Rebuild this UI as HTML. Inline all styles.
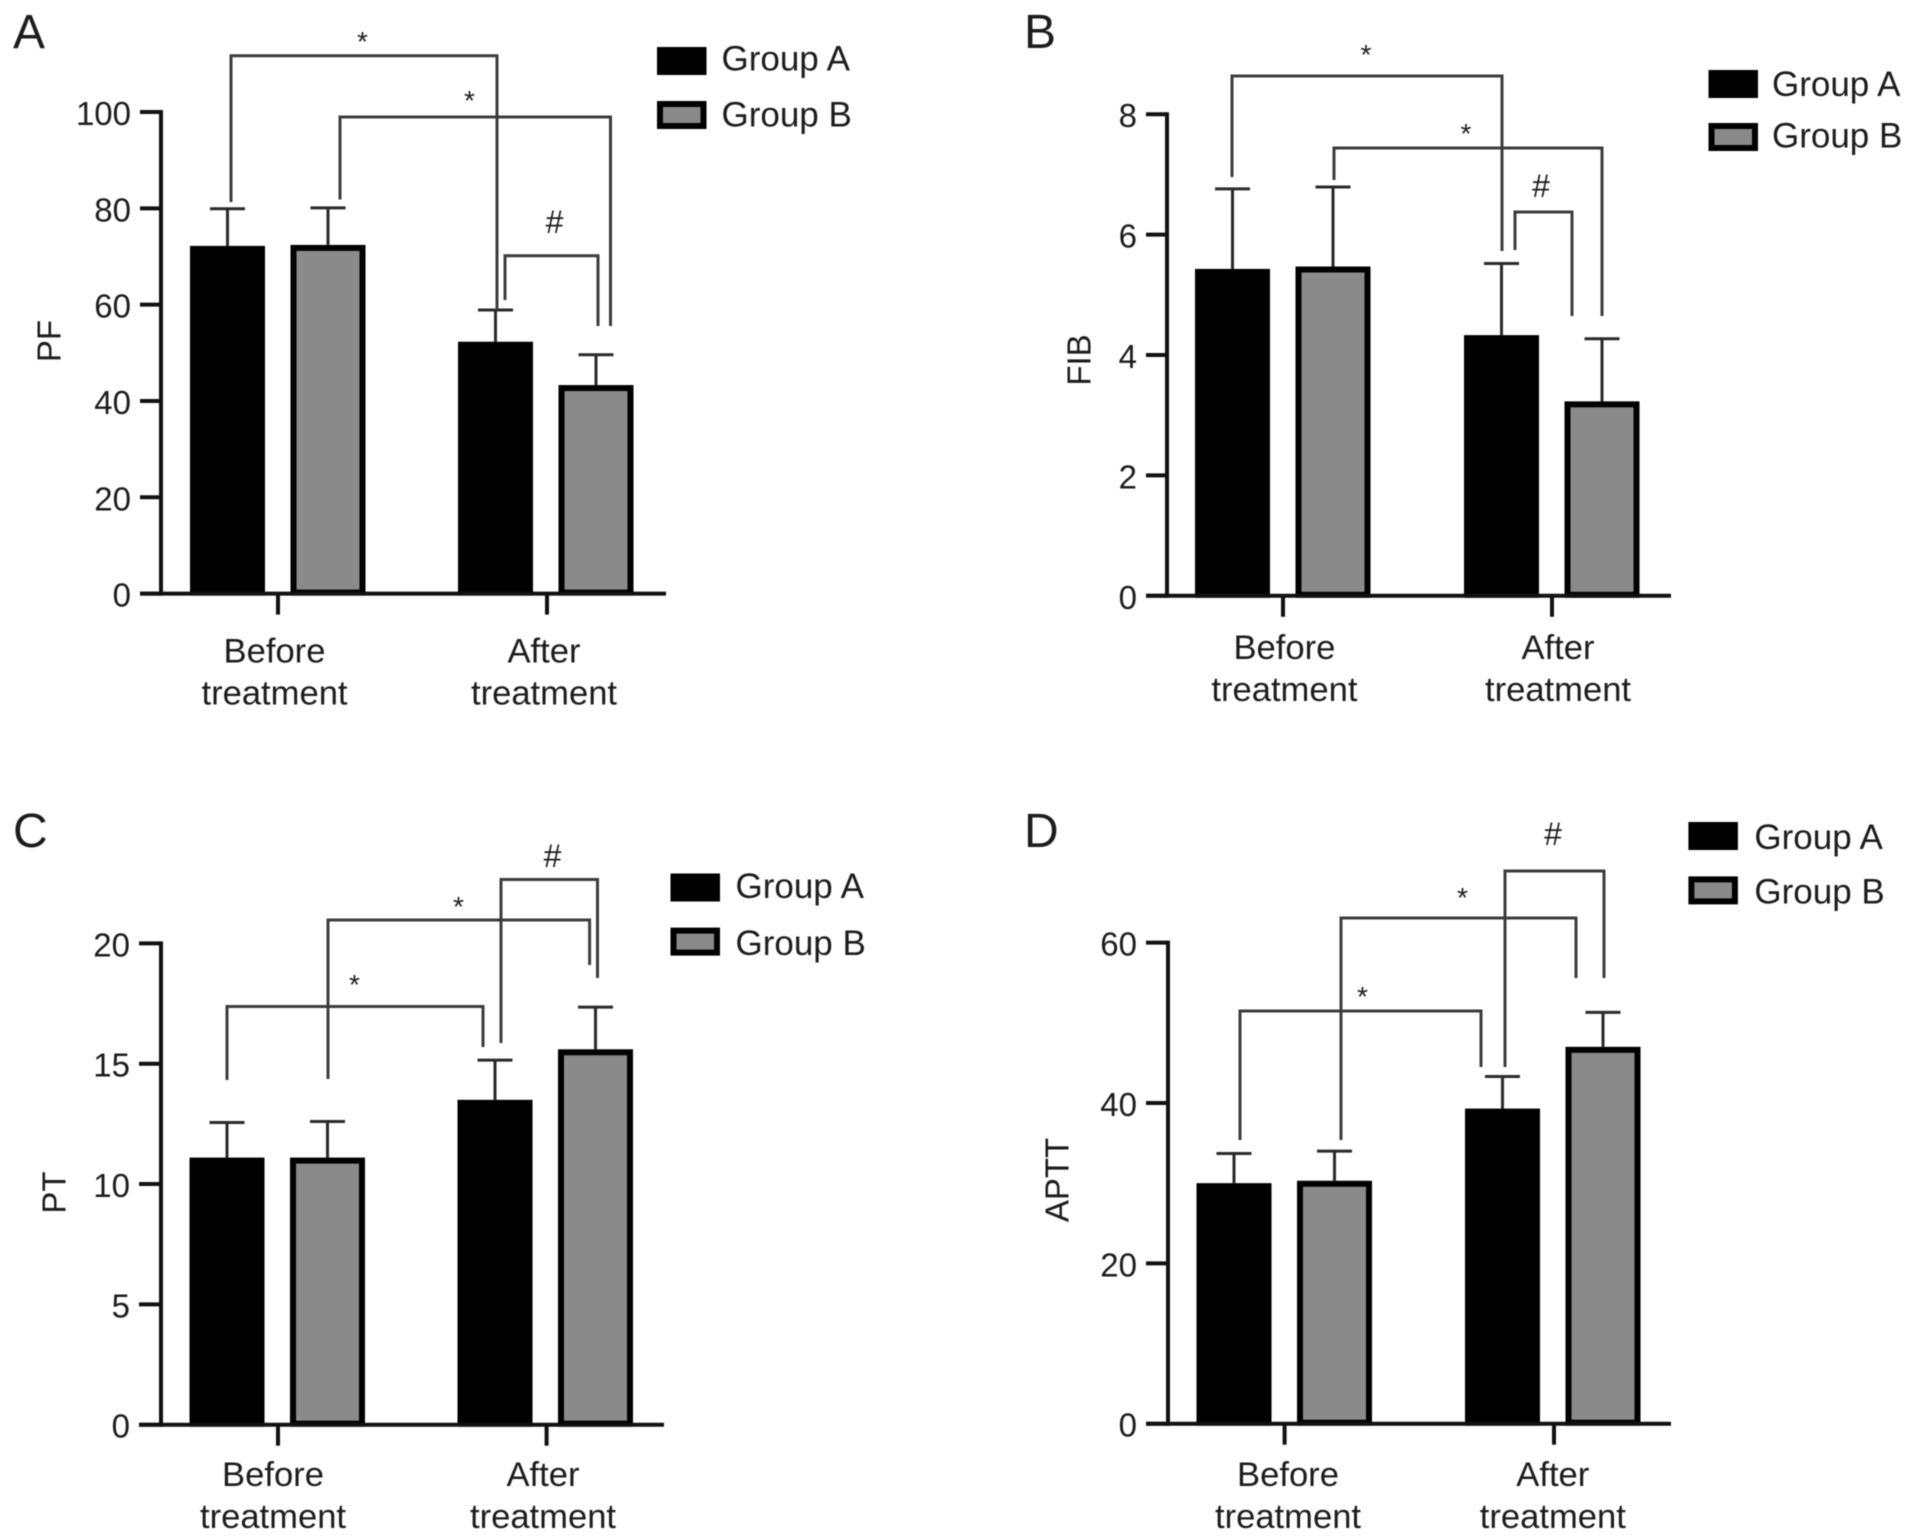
<!DOCTYPE html>
<html lang="en">
<head>
<meta charset="utf-8">
<title>Coagulation indices by group</title>
<style>
html,body{margin:0;padding:0;background:#fff;}
svg{display:block;filter:blur(0.6px);}
text{font-family:"Liberation Sans",sans-serif;fill:#1c1c1c;}
</style>
</head>
<body>
<svg id="figure" xmlns="http://www.w3.org/2000/svg" width="1913" height="1540" viewBox="0 0 1913 1540"></svg>
<script>
const categories = [["Before", "treatment"], ["After", "treatment"]];
const groupNames = ["Group A", "Group B"];

const pfGroupA = [72.2, 52.3];
const pfGroupB = [72.4, 43.3];
const pfTopA = [79.9, 58.9];
const pfTopB = [80.1, 49.6];
const pfTicks = [0, 20, 40, 60, 80, 100];

const fibGroupA = [5.43, 4.33];
const fibGroupB = [5.47, 3.23];
const fibTopA = [6.76, 5.52];
const fibTopB = [6.79, 4.27];
const fibTicks = [0, 2, 4, 6, 8];

const ptGroupA = [11.1, 13.5];
const ptGroupB = [11.1, 15.6];
const ptTopA = [12.56, 15.15];
const ptTopB = [12.6, 17.35];
const ptTicks = [0, 5, 10, 15, 20];

const apttGroupA = [30.0, 39.3];
const apttGroupB = [30.3, 47.0];
const apttTopA = [33.7, 43.3];
const apttTopB = [34.0, 51.3];
const apttTicks = [0, 20, 40, 60];

const NS = "http://www.w3.org/2000/svg";
const svg = document.getElementById("figure");

function make(tag, attrs, parent, content) {
  const el = document.createElementNS(NS, tag);
  for (const k in attrs) el.setAttribute(k, attrs[k]);
  if (content !== undefined) el.textContent = content;
  parent.appendChild(el);
  return el;
}

function drawPanel(p) {
  const g = make("g", {}, svg);
  
  

  const maxTick = p.ticks[p.ticks.length - 1];
  const yScale = v => p.yBase - (v / maxTick) * (p.yBase - p.yTop);
  const xBand = (cat, grp) => p.x0 + cat * p.catStep + grp * p.groupStep;

  const letter = make("text", {x: p.letterX, y: p.letterY, "font-size": 48}, g, p.letter);
  
  

  const yTitle = make("text", {
    transform: "translate(" + p.titleX + "," + p.titleY + ") rotate(-90)",
    "text-anchor": "middle", "dominant-baseline": "central", "font-size": 33
  }, g, p.title);
  
  

  // bars and error bars
  p.series.forEach((s, grp) => {
    s.values.forEach((v, cat) => {
      const left = xBand(cat, grp);
      const cx = left + p.barW / 2;
      const errLine = make("line", {x1: cx, x2: cx, y1: yScale(v), y2: yScale(s.tops[cat]), stroke: "#2a2a2a", "stroke-width": 3}, g);
      
      
      const cap = make("line", {x1: cx - 17.5, x2: cx + 17.5, y1: yScale(s.tops[cat]), y2: yScale(s.tops[cat]), stroke: "#2a2a2a", "stroke-width": 3}, g);
      
      
      const bar = make("rect", {
        x: left + 3, y: yScale(v) + 3, width: p.barW - 6,
        height: Math.max(0, p.yBase - yScale(v) - 4),
        fill: grp === 0 ? "#000" : "#8a8a8a", stroke: "#000", "stroke-width": 6
      }, g);
      
      
    });
  });

  // axes
  const yAxis = make("line", {x1: p.axisX, x2: p.axisX, y1: p.yTop - 2, y2: p.yBase + 2, stroke: "#111", "stroke-width": 4}, g);
  
  
  const xAxis = make("line", {x1: p.tickLeft, x2: p.xEnd, y1: p.yBase, y2: p.yBase, stroke: "#111", "stroke-width": 4}, g);
  
  

  p.ticks.forEach(t => {
    const y = yScale(t);
    const tick = make("line", {x1: p.tickLeft, x2: p.axisX, y1: y, y2: y, stroke: "#111", "stroke-width": 4}, g);
    
    
    const label = make("text", {x: p.tickLeft - 9, y: y + 13, "text-anchor": "end", "font-size": 33}, g, String(t));
    
    
  });

  categories.forEach((lines, cat) => {
    const tx = p.xTicks[cat];
    const tick = make("line", {x1: tx, x2: tx, y1: p.yBase, y2: p.yBase + 21, stroke: "#111", "stroke-width": 4}, g);
    
    
    lines.forEach((line, i) => {
      const label = make("text", {x: p.catLabelX[cat], y: p.catBaseY + i * 42, "text-anchor": "middle", "font-size": 34.6}, g, line);
      
      
    });
  });

  // legend
  groupNames.forEach((name, i) => {
    const y = p.legendY[i];
    const sw = make("rect", {
      x: p.legendX + 3, y: y + 3, width: 43.5, height: 22,
      fill: i === 0 ? "#000" : "#8a8a8a", stroke: "#000", "stroke-width": 6
    }, g);
    
    
    const label = make("text", {x: p.legendTextX, y: p.legendTextY[i], "font-size": 35}, g, name);
    
    
  });

  // significance brackets
  p.brackets.forEach(b => {
    const path = make("path", {
      d: "M" + b.l + " " + b.ly + "V" + b.top + "H" + b.r + "V" + b.ry,
      fill: "none", stroke: "#3c3c3c", "stroke-width": 3
    }, g);
    
    
    const isHash = b.mark === "#";
    const mark = make("text", {
      x: b.mx, y: b.my + (isHash ? 9 : 14), "text-anchor": "middle", "font-size": isHash ? 32 : 28
    }, g, b.mark);
    
    
  });
}

const panels = [
  {
    letter: "A", letterX: 13, letterY: 48, title: "PF", titleX: 49, titleY: 341,
    ticks: pfTicks,
    series: [{values: pfGroupA, tops: pfTopA}, {values: pfGroupB, tops: pfTopB}],
    axisX: 161, yTop: 112, yBase: 593.6, tickLeft: 140, xEnd: 666,
    x0: 190, catStep: 268, groupStep: 100.5, barW: 75,
    xTicks: [278, 547], catLabelX: [274.5, 544], catBaseY: 662.6,
    legendX: 657, legendY: [47, 101], legendTextX: 721.5, legendTextY: [70.5, 126.7],
    brackets: [
      {l: 231, ly: 202, top: 55.7, r: 497, ry: 310, mark: "*", mx: 362.5, my: 37},
      {l: 340, ly: 199.5, top: 117, r: 610.5, ry: 326, mark: "*", mx: 469.5, my: 96},
      {l: 505, ly: 300, top: 255.7, r: 598, ry: 326, mark: "#", mx: 554.5, my: 224}
    ]
  },
  {
    letter: "B", letterX: 1024, letterY: 48, title: "FIB", titleX: 1079, titleY: 360,
    ticks: fibTicks,
    series: [{values: fibGroupA, tops: fibTopA}, {values: fibGroupB, tops: fibTopB}],
    axisX: 1167, yTop: 114.2, yBase: 595.8, tickLeft: 1146, xEnd: 1671,
    x0: 1195, catStep: 269, groupStep: 100.5, barW: 75,
    xTicks: [1283, 1552], catLabelX: [1284.4, 1558], catBaseY: 658.8,
    legendX: 1708.5, legendY: [70, 123], legendTextX: 1772, legendTextY: [96, 147.7],
    brackets: [
      {l: 1232, ly: 177, top: 76, r: 1502, ry: 251, mark: "*", mx: 1366, my: 50},
      {l: 1334, ly: 180, top: 148, r: 1602, ry: 316, mark: "*", mx: 1466, my: 129},
      {l: 1515, ly: 250, top: 212, r: 1572, ry: 316, mark: "#", mx: 1541, my: 188}
    ]
  },
  {
    letter: "C", letterX: 13, letterY: 847, title: "PT", titleX: 54, titleY: 1192.6,
    ticks: ptTicks,
    series: [{values: ptGroupA, tops: ptTopA}, {values: ptGroupB, tops: ptTopB}],
    axisX: 161, yTop: 943.4, yBase: 1424.7, tickLeft: 139, xEnd: 664,
    x0: 189.5, catStep: 268, groupStep: 100.5, barW: 75,
    xTicks: [278, 546.6], catLabelX: [273, 543], catBaseY: 1485.8,
    legendX: 670.5, legendY: [873.5, 927.6], legendTextX: 735.5, legendTextY: [898, 955],
    brackets: [
      {l: 227, ly: 1080, top: 1006.5, r: 483, ry: 1047, mark: "*", mx: 354.5, my: 980},
      {l: 328, ly: 1079, top: 920, r: 589.6, ry: 965, mark: "*", mx: 458.5, my: 902},
      {l: 501, ly: 1043, top: 879.5, r: 597.5, ry: 978, mark: "#", mx: 552.5, my: 858}
    ]
  },
  {
    letter: "D", letterX: 1024, letterY: 847, title: "APTT", titleX: 1057, titleY: 1180,
    ticks: apttTicks,
    series: [{values: apttGroupA, tops: apttTopA}, {values: apttGroupB, tops: apttTopB}],
    axisX: 1168, yTop: 942.6, yBase: 1423.7, tickLeft: 1146, xEnd: 1671,
    x0: 1196.5, catStep: 268.5, groupStep: 100.5, barW: 75,
    xTicks: [1284.6, 1554], catLabelX: [1288, 1552.8], catBaseY: 1485.8,
    legendX: 1688.4, legendY: [822, 876.4], legendTextX: 1754.4, legendTextY: [849.2, 903.7],
    brackets: [
      {l: 1240, ly: 1140, top: 1011, r: 1481, ry: 1067, mark: "*", mx: 1362.5, my: 992},
      {l: 1341, ly: 1140, top: 918, r: 1576, ry: 978, mark: "*", mx: 1462.5, my: 893},
      {l: 1505, ly: 1067, top: 871, r: 1604, ry: 978, mark: "#", mx: 1553, my: 836}
    ]
  }
];

panels.forEach(drawPanel);
</script>
</body>
</html>
